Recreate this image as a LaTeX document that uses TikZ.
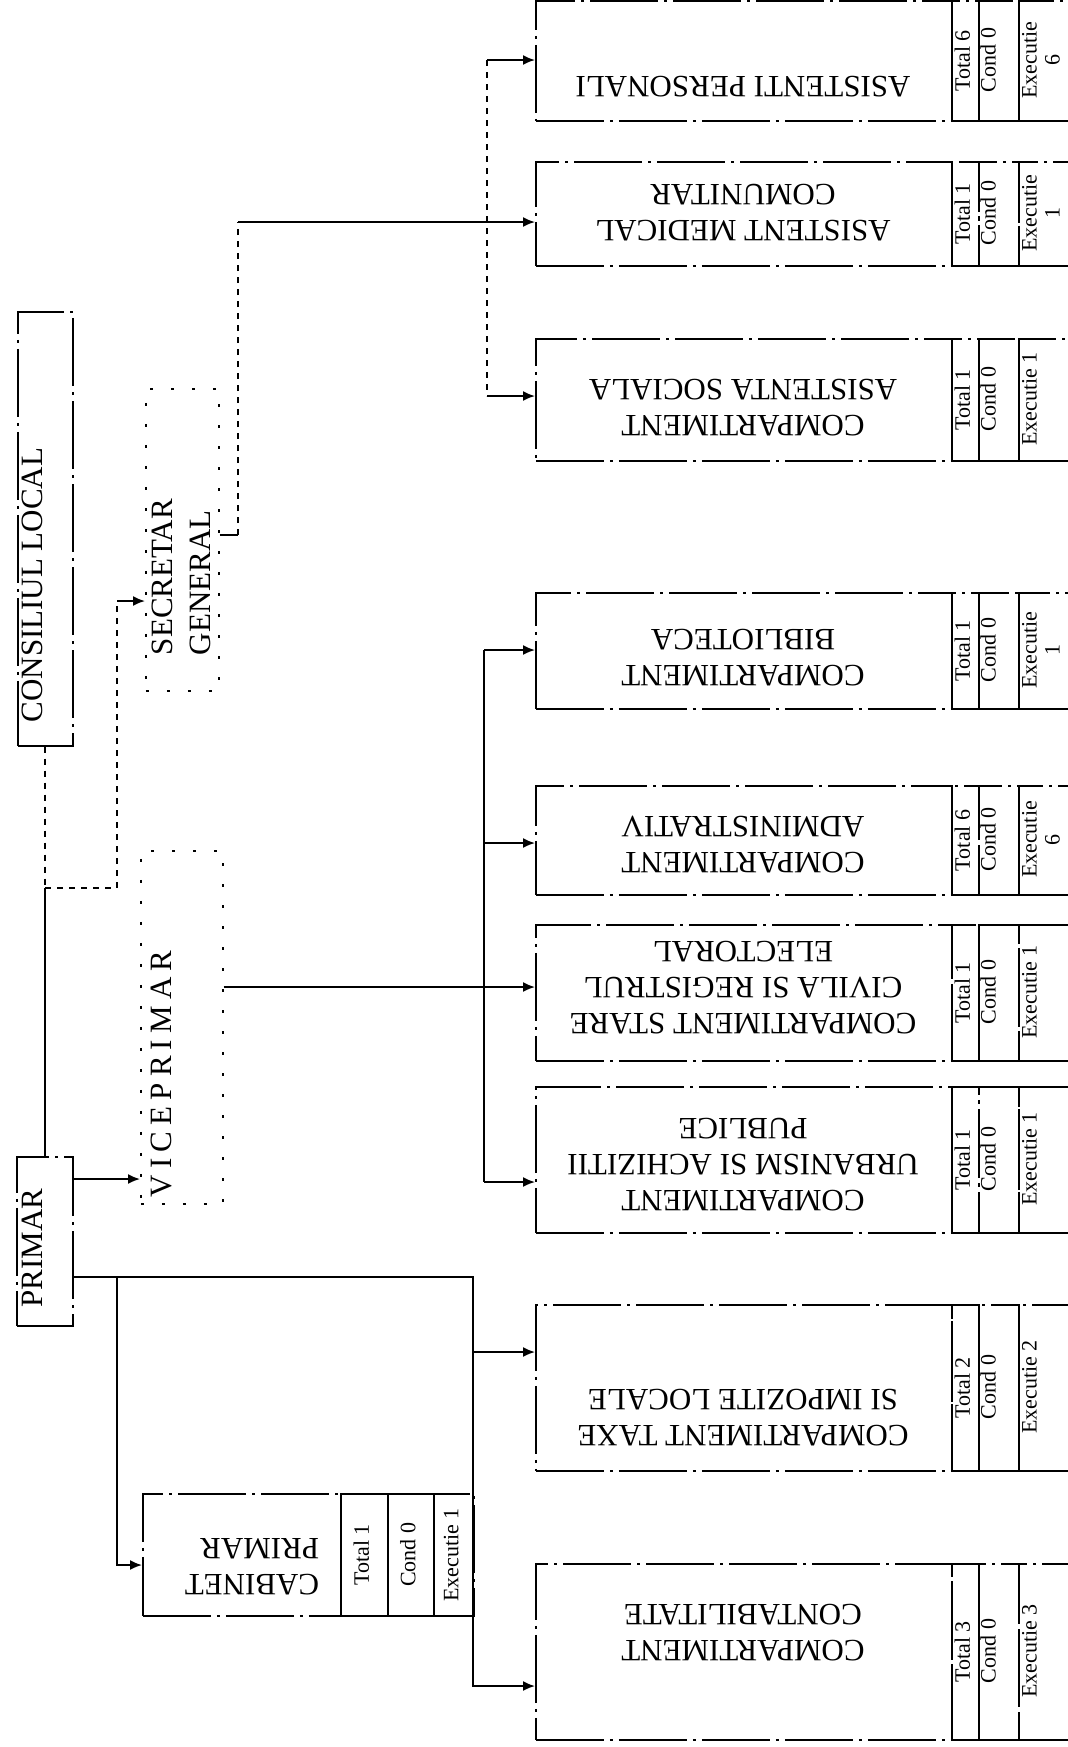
\documentclass[tikz,border=0pt]{standalone}
\usepackage{fontspec}
\setmainfont{Liberation Serif}
\usepackage{graphicx}
\usetikzlibrary{arrows.meta}

% rotated text blocks (the chart is scanned sideways)
\newcommand\turnup[2][c]{\rotatebox[origin=c]{90}{\begin{tabular}{@{}#1@{}}#2\end{tabular}}}
\newcommand\turnflip[2][c]{\rotatebox[origin=c]{180}{\begin{tabular}{@{}#1@{}}#2\end{tabular}}}

\tikzset{
  frame/.style={draw,line width=0.8pt,dash pattern=on 34pt off 3pt on 1.5pt off 3pt,inner sep=0pt,anchor=north west},
  faintframe/.style={frame,dash pattern=on 1.5pt off 9pt},
  maintxt/.style={font=\fontsize{15.5}{18}\selectfont,inner sep=0pt},
  titletxt/.style={font=\fontsize{15.5}{19}\selectfont,inner sep=0pt},
  smalltxt/.style={font=\fontsize{11}{11.5}\selectfont,inner sep=0pt},
  conn/.style={line width=0.9pt},
  arrowconn/.style={conn,-{Latex[length=6pt,width=5pt]}},
}

\begin{document}
\begin{tikzpicture}[x=0.5pt,y=-0.5pt]
  \fill[white] (0,0) rectangle (1068,1747);
  \useasboundingbox (0,0) rectangle (1068,1747);
  \clip (0,0) rectangle (1068,1747);

  % compartments: name/top/bottom/text y/arrow y/label/total/executie
  \foreach \nm/\yt/\yb/\yl/\yr/\lab/\tot/\exe in {%
    pers/0/120/84/60/{ASISTENTI PERSONALI}/6/{Executie\\6},%
    med/161/265/210/222/{ASISTENT MEDICAL\\COMUNITAR}/1/{Executie\\1},%
    soc/338/460/405/396/{COMPARTIMENT\\ASISTENTA SOCIALA}/1/{Executie 1},%
    bib/592/708/655/650/{COMPARTIMENT\\BIBLIOTECA}/1/{Executie\\1},%
    adm/785/894/842/843/{COMPARTIMENT\\ADMINISTRATIV}/6/{Executie\\6},%
    sc/924/1060/985/987/{COMPARTIMENT STARE\\CIVILA SI REGISTRUL\\ELECTORAL}/1/{Executie 1},%
    urb/1086/1232/1162/1182/{COMPARTIMENT\\URBANISM SI ACHIZITII\\PUBLICE}/1/{Executie 1},%
    tax/1304/1470/1415/1352/{COMPARTIMENT TAXE\\SI IMPOZITE LOCALE}/2/{Executie 2},%
    cont/1563/1739/1630/1686/{COMPARTIMENT\\CONTABILITATE}/3/{Executie 3}} {
    \pgfmathsetmacro\hh{(\yb-\yt)*0.5}
    \pgfmathsetmacro\ym{(\yt+\yb)/2}
    \node[frame,minimum width=208pt,minimum height=\hh pt] (\nm) at (535,\yt) {};
    \node[maintxt] (\nm-t) at (743,\yl) {\turnflip{\lab}};
    \node[frame,smalltxt,minimum width=13.5pt,minimum height=\hh pt] (\nm-tot) at (951,\yt) {\turnup{Total \tot}};
    \node[frame,minimum width=20pt,minimum height=\hh pt] (\nm-con) at (978,\yt) {};
    \node[smalltxt] (\nm-cn) at (991,\ym) {\turnup{Cond 0}};
    \node[frame,minimum width=41pt,minimum height=\hh pt] (\nm-exe) at (1018,\yt) {};
    \node[smalltxt,anchor=west] (\nm-ex) at (1020,\ym) {\turnup{\exe}};
    \coordinate (\nm-in) at (\nm.west |- 0,\yr);
  }

  % left column
  \node[frame,minimum width=27.5pt,minimum height=217pt] (consiliu) at (17,311) {};
  \node[titletxt] (consiliu-t) at (35,585) {\turnup{CONSILIUL LOCAL}};
  \node[frame,minimum width=28pt,minimum height=84.5pt] (primar) at (16,1156) {};
  \node[titletxt] (primar-t) at (35,1248) {\turnup{PRIMAR}};
  \node[faintframe,minimum width=36.5pt,minimum height=151pt] (secretar) at (145,388) {};
  \node[titletxt] (secretar-t) at (184,577) {\turnup[l]{SECRETAR\\GENERAL}};
  \node[faintframe,minimum width=41pt,minimum height=176.5pt] (vice) at (140,850) {};
  \node[titletxt] (vice-t) at (164,1074) {\turnup{\addfontfeature{LetterSpace=20}VICEPRIMAR}};

  % cabinet primar
  \node[frame,minimum width=99pt,minimum height=61pt] (cab) at (142,1493) {};
  \node[maintxt] (cab-t) at (252,1564) {\turnflip[l]{CABINET\\PRIMAR}};
  \node[frame,smalltxt,minimum width=23.5pt,minimum height=61pt] (cab-tot) at (340,1493) {\turnup{Total 1}};
  \node[frame,smalltxt,minimum width=23pt,minimum height=61pt] (cab-con) at (387,1493) {\turnup{Cond 0}};
  \node[frame,smalltxt,minimum width=20pt,minimum height=61pt] (cab-exe) at (433,1493) {\turnup{Executie 1}};
  \coordinate (cab-in) at (cab.west |- 0,1565);

  % consiliu - primar - secretar
  \coordinate (jct) at (consiliu.south |- 0,888);
  \coordinate (sgturn) at (117,601);
  \draw[conn,dashed] (consiliu.south) -- (jct);
  \draw[conn] (jct) -- (jct |- primar.north);
  \draw[conn,dashed] (jct) -| (sgturn);
  \draw[arrowconn] (sgturn) -- (secretar.west |- sgturn);

  % primar
  \draw[arrowconn] (primar.east |- 0,1179) -- (vice.west |- 0,1179);
  \coordinate (busP) at (473,1277);
  \coordinate (cabjct) at (117,1277);
  \draw[arrowconn] (primar.east |- busP) -- (busP) |- (cont-in);
  \draw[arrowconn] (busP |- tax-in) -- (tax-in);
  \draw[arrowconn] (cabjct) |- (cab-in);

  % viceprimar
  \coordinate (busV) at (484,650);
  \draw[conn] (busV |- bib-in) -- (busV |- urb-in);
  \draw[conn] (vice.east |- sc-in) -- (busV |- sc-in);
  \foreach \c in {bib,adm,sc,urb}
    \draw[arrowconn] (busV |- \c-in) -- (\c-in);

  % secretar general
  \coordinate (sgout) at (secretar.east |- 0,535);
  \coordinate (sgcorner) at (238,535);
  \coordinate (busS) at (487,61);
  \draw[conn] (sgout) -- (sgcorner);
  \draw[conn,dashed] (sgcorner) -- (sgcorner |- med-in);
  \draw[arrowconn] (sgcorner |- med-in) -- (med-in);
  \draw[conn,dashed] (busS |- pers-in) -- (busS |- soc-in);
  \foreach \c in {pers,soc}
    \draw[arrowconn] (busS |- \c-in) -- (\c-in);
\end{tikzpicture}
\end{document}
